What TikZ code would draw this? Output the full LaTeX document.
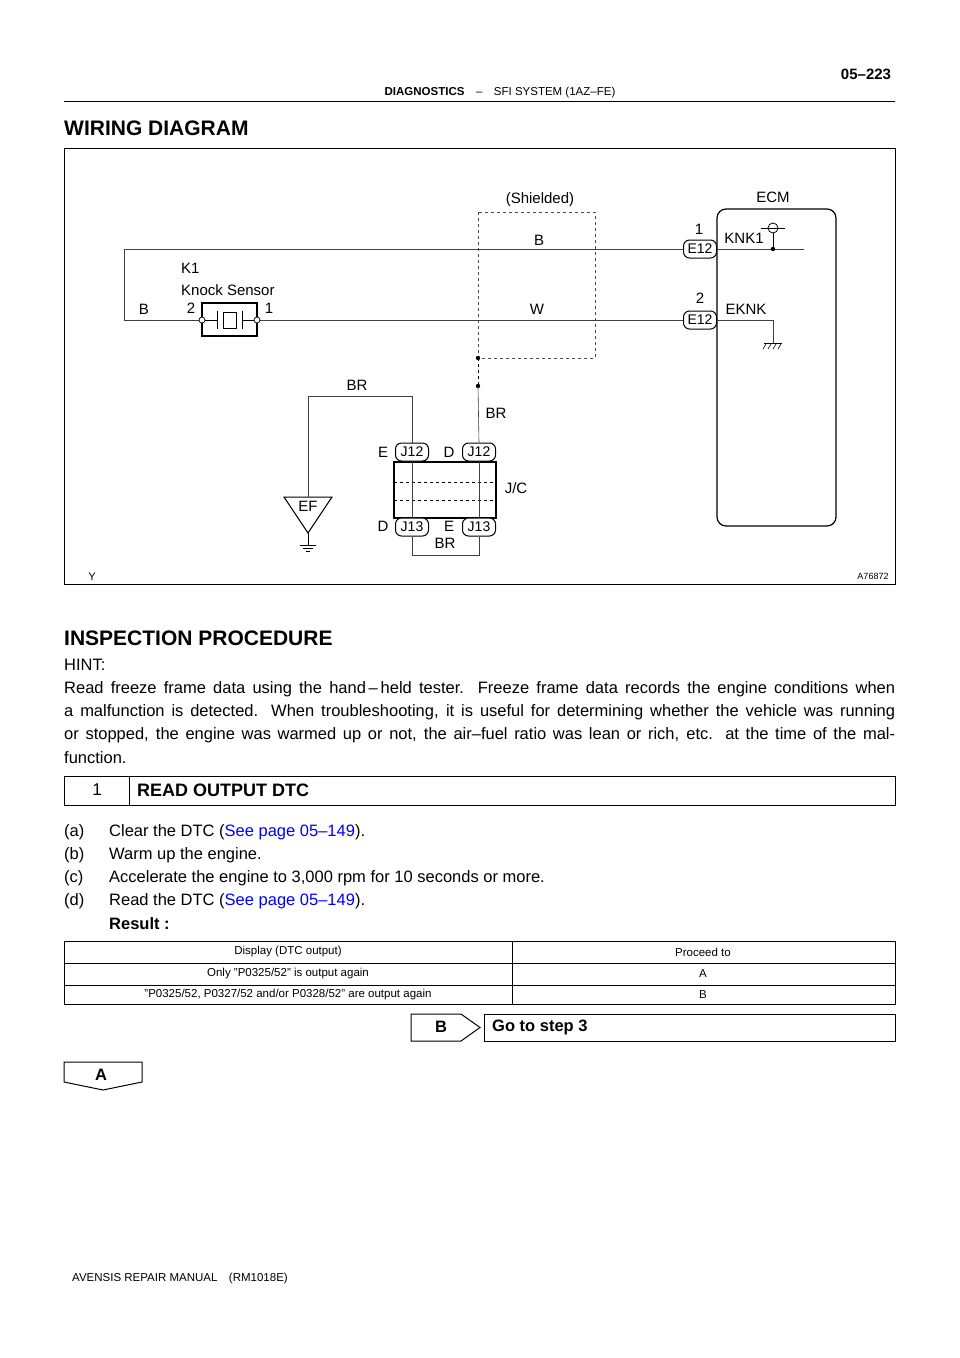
\documentclass[tikz,border=0pt]{standalone}
\usepackage{fontspec}
\setmainfont{Liberation Sans}
\begin{document}
\begin{tikzpicture}[x=1pt,y=-1pt,
  lbl/.style={inner sep=0pt,font=\fontsize{15}{17}\selectfont},
  body/.style={inner sep=0pt,anchor=west,font=\fontsize{16.5}{20}\selectfont},
  small/.style={inner sep=0pt,font=\fontsize{11.5}{13}\selectfont},
  wire/.style={line width=0.6pt,black!75},
  conn/.style={draw,line width=1pt,rounded corners=6pt,minimum width=33pt,minimum height=18pt,inner sep=0pt,font=\fontsize{14}{16}\selectfont,fill=white},
  jline/.style={inner sep=0pt,anchor=west,text width=831pt,align=justify,font=\fontsize{16.5}{20}\selectfont}]
\useasboundingbox (0,0) rectangle (960,1358);
% header
\node[inner sep=0pt,font=\bfseries\fontsize{15}{17}\selectfont] (pg) at (866,74) {05–223};
\node[small] (hd) at (500,93) {\textbf{DIAGNOSTICS}\quad –\quad SFI SYSTEM (1AZ–FE)};
\draw[line width=1pt] (64,101) -- (895,101);
\node[inner sep=0pt,anchor=west,font=\bfseries\fontsize{21}{24}\selectfont] (wd) at (64,128) {WIRING DIAGRAM};
% frame
\draw[line width=1pt] (64,148) rectangle (895,584);
\node[lbl] (yy) at (92,577) {\fontsize{11}{12}\selectfont Y};
\node[lbl] (aid) at (873,576) {\fontsize{9}{10}\selectfont A76872};
% shield
\draw[dashed,line width=0.6pt,black!70] (478,212) rectangle (595,358);
\node[lbl] (sh) at (540,200) {(Shielded)};
% ECM
\draw[line width=1.2pt,rounded corners=9pt] (717,209) rectangle (836,526);
\node[lbl] (ecm) at (773,197) {ECM};
% wires
\coordinate (tl) at (124,249); \coordinate (bl) at (124,320);
\coordinate (tr) at (804,249);
\node[conn] (e12a) at (700,249) {E12};
\node[conn] (e12b) at (700,320) {E12};
\draw[wire] (e12a.west) -- (tl) -- (bl) -- (202,320);
\draw[wire] (e12a.east) -- (tr);
\draw[wire] (257,320) -- (e12b.west);
\node[lbl] (n1) at (699,229) {1};
\node[lbl] (n2) at (700,298) {2};
\node[lbl] (knk) at (744,238) {KNK1};
\node[lbl] (eknk) at (746,309) {EKNK};
\node[lbl] (wb) at (539,240) {B};
\node[lbl] (ww) at (537,309) {W};
% KNK1 symbol
\coordinate (kd) at (773,249);
\draw[line width=0.8pt] (773,228) circle (5pt);
\draw[line width=0.8pt] (761,228) -- (785,228);
\draw[line width=0.8pt] (773,233) -- (kd);
\fill (kd) circle (2.2pt);
% EKNK ground
\coordinate (eg) at (773,343);
\draw[wire] (e12b.east) -- (773,320) -- (eg);
\draw[line width=0.8pt] (764,343) -- (782,343);
\foreach \i in {0,5,10,15}{\draw[line width=0.6pt] (766+\i,344) -- (763+\i,349);}
% sensor
\draw[line width=1.2pt] (202,303) rectangle (257,336);
\draw[fill=white,line width=0.7pt] (202,320) circle (3pt);
\draw[fill=white,line width=0.7pt] (257,320) circle (3pt);
\draw[line width=1pt] (217,311) -- (217,329) (242,311) -- (242,329);
\draw[line width=1pt] (223,312) rectangle (236,328);
\draw[line width=0.6pt] (205,320) -- (217,320) (242,320) -- (254,320);
\node[lbl,anchor=west] (k1) at (181,268) {K1};
\node[lbl,anchor=west] (ks) at (181,290) {Knock Sensor};
\node[lbl] (sb) at (144,309) {B};
\node[lbl] (s2) at (191,308) {2};
\node[lbl] (s1) at (269,308) {1};
% shield drain
\coordinate (d1) at (478,358); \coordinate (d2) at (478,386);
\fill (d1) circle (2.2pt); \fill (d2) circle (2.2pt);
\draw[dashed,line width=0.6pt] (d1) -- (d2);
\node[lbl] (br1) at (496,413) {BR};
% J/C
\draw[line width=1.3pt] (394,462) rectangle (496,518);
\draw[dashed,line width=0.5pt] (394,482) -- (496,482) (394,500) -- (496,500);
\node[conn] (j12e) at (412,452) {J12};
\node[conn] (j12d) at (479,452) {J12};
\node[conn] (j13d) at (412,527) {J13};
\node[conn] (j13e) at (479,527) {J13};
\draw[wire] (d2) -- (j12d.north);
\draw[wire] (j12d.south) -- (j13e.north);
\draw[wire] (j12e.south) -- (j13d.north);
\draw[wire] (j13d.south) -- (412,555) -- (479,555) -- (j13e.south);
\node[lbl] (le) at (383,452) {E};
\node[lbl] (ld) at (449,452) {D};
\node[lbl] (ld2) at (383,526) {D};
\node[lbl] (le2) at (449,526) {E};
\node[lbl] (br3) at (445,543) {BR};
\node[lbl] (jc) at (516,488) {J/C};
% EF
\draw[line width=1pt] (284,497) -- (332,497) -- (308,533) -- cycle;
\node[lbl] (ef) at (308,506) {EF};
\draw[wire] (j12e.north) -- (412,396) -- (308,396) -- (308,497);
\node[lbl] (br2) at (357,385) {BR};
\draw[line width=0.6pt] (308,533) -- (308,545);
\draw[line width=0.6pt] (300,545) -- (316,545) (303,548) -- (313,548) (306,551) -- (310,551);
% inspection
\node[inner sep=0pt,anchor=west,font=\bfseries\fontsize{21}{24}\selectfont] (ip) at (64,638) {INSPECTION PROCEDURE};
\node[body] (hint) at (64,665) {HINT:};
\node[jline] (p1) at (64,689) {\parfillskip=0pt Read freeze frame data using the hand\,–\,held tester. Freeze frame data records the engine conditions when\par};
\node[jline] (p2) at (64,712) {\parfillskip=0pt a malfunction is detected. When troubleshooting, it is useful for determining whether the vehicle was running\par};
\node[jline] (p3) at (64,735) {\parfillskip=0pt or stopped, the engine was warmed up or not, the air–fuel ratio was lean or rich, etc. at the time of the mal-\par};
\node[body] (p4) at (64,758) {function.};
% step
\draw[line width=1pt] (64,776) rectangle (895,805);
\draw[line width=1pt] (129,776) -- (129,805);
\node[inner sep=0pt,font=\fontsize{17}{20}\selectfont] (st1) at (97,790) {1};
\node[inner sep=0pt,anchor=west,font=\bfseries\fontsize{18}{20}\selectfont] (st) at (137,790) {READ OUTPUT DTC};
\node[body] (ia) at (64,832) {(a)}; \node[body] (ta) at (109,832) {Clear the DTC (\textcolor{blue}{See page 05–149}).};
\node[body] (ib) at (64,855) {(b)}; \node[body] (tb) at (109,855) {Warm up the engine.};
\node[body] (ic) at (64,878) {(c)}; \node[body] (tc) at (109,878) {Accelerate the engine to 3,000 rpm for 10 seconds or more.};
\node[body] (id) at (64,901) {(d)}; \node[body] (td) at (109,901) {Read the DTC (\textcolor{blue}{See page 05–149}).};
\node[body,font=\bfseries\fontsize{16.5}{20}\selectfont] (res) at (109,924) {Result :};
% table
\draw[line width=1pt] (64,941) rectangle (895,1004);
\draw[line width=0.8pt] (64,963) -- (895,963) (64,985) -- (895,985) (512,941) -- (512,1004);
\node[small] (t11) at (288,952) {Display (DTC output)};
\node[small] (t12) at (703,952) {Proceed to};
\node[small] (t21) at (288,974) {Only "P0325/52" is output again};
\node[small] (t22) at (703,974) {A};
\node[small] (t31) at (288,995) {"P0325/52, P0327/52 and/or P0328/52" are output again};
\node[small] (t32) at (703,995) {B};
% B / A
\draw[line width=1pt] (411,1014) -- (461,1014) -- (480,1027.5) -- (461,1041) -- (411,1041) -- cycle;
\node[inner sep=0pt,font=\bfseries\fontsize{16.5}{20}\selectfont] (bb) at (441,1027) {B};
\draw[line width=1pt] (484,1014) rectangle (895,1041);
\node[inner sep=0pt,anchor=west,font=\bfseries\fontsize{16.5}{20}\selectfont] (go) at (492,1027) {Go to step 3};
\draw[line width=1pt] (64,1062) -- (142,1062) -- (142,1082) -- (103,1090) -- (64,1082) -- cycle;
\node[inner sep=0pt,font=\bfseries\fontsize{16.5}{20}\selectfont] (aa) at (101,1075) {A};
\node[small,anchor=west] (ft) at (72,1279) {AVENSIS REPAIR MANUAL\quad(RM1018E)};
\end{tikzpicture}
\end{document}
